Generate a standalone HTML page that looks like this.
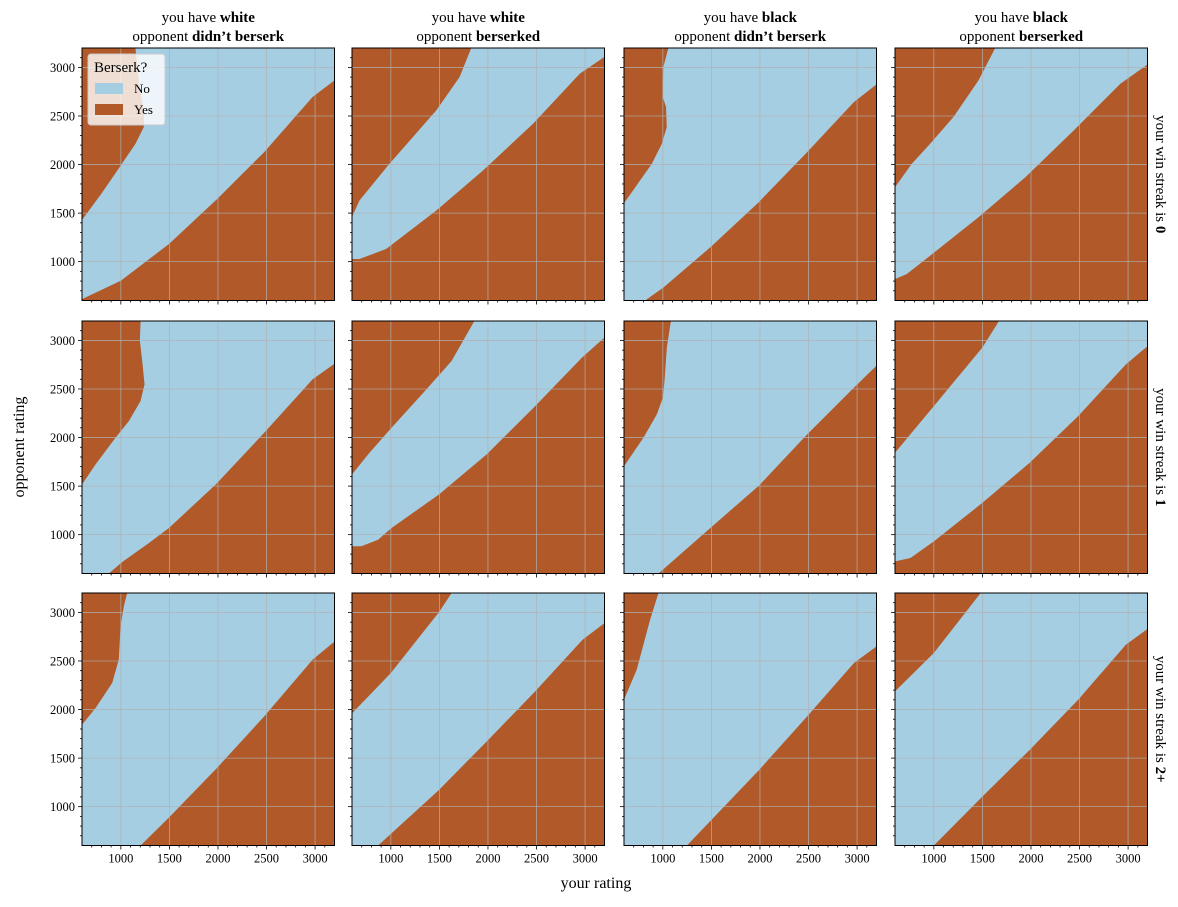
<!DOCTYPE html>
<html><head><meta charset="utf-8">
<style>
body{margin:0;background:#fff;}
svg text{font-family:"Liberation Serif",serif;fill:#000;}
</style></head>
<body>
<svg id="chart" width="1178" height="902" xmlns="http://www.w3.org/2000/svg"></svg>
<script>
const colTitlesColor = ["white","white","black","black"];
const colTitlesOpp = ["didn\u2019t berserk","berserked","didn\u2019t berserk","berserked"];
const rowStreaks = ["0","1","2+"];
const tickValues = [1000,1500,2000,2500,3000];
// upper boundaries (brown upper-left region / blue), [x,y] in rating units
const upperBounds = [
 [[600,1429],[800,1700],[999,1990],[1150,2213],[1236,2385],[1240,2520],[1185,2867],[1150,3200]],
 [[600,1460],[676,1629],[985,2007],[1467,2557],[1708,2901],[1828,3200]],
 [[600,1601],[886,2007],[989,2213],[1040,2385],[1033,2592],[999,2695],[1005,3005],[1057,3200]],
 [[600,1766],[772,2007],[961,2213],[1202,2489],[1460,2867],[1632,3200]],
 [[600,1516],[739,1722],[945,1998],[1083,2170],[1203,2376],[1244,2548],[1220,2789],[1196,2995],[1203,3200]],
 [[600,1620],[766,1826],[1007,2101],[1351,2479],[1626,2789],[1860,3200]],
 [[600,1705],[800,1998],[938,2238],[1000,2410],[1017,2582],[1041,2926],[1083,3200]],
 [[600,1843],[1000,2324],[1499,2926],[1671,3200]],
 [[600,1843],[739,2015],[911,2273],[979,2514],[997,2858],[1031,3064],[1065,3200]],
 [[600,1960],[1000,2376],[1495,3002],[1626,3200]],
 [[600,2101],[731,2410],[869,2926],[955,3200]],
 [[600,2187],[1000,2582],[1482,3200]]
];
// lower boundaries (blue / brown lower-right region)
const lowerBounds = [
 [[600,614],[999,803],[1494,1181],[1993,1646],[2475,2127],[2974,2695],[3200,2867]],
 [[600,1027],[676,1027],[951,1130],[1467,1525],[1949,1938],[2464,2420],[2946,2936],[3200,3108]],
 [[817,600],[1006,734],[1488,1147],[1986,1611],[2485,2127],[2967,2643],[3200,2826]],
 [[600,820],[720,872],[961,1061],[1460,1457],[1942,1869],[2440,2351],[2922,2833],[3200,3030]],
 [[876,600],[1014,718],[1289,914],[1495,1069],[1977,1516],[2476,2049],[2975,2600],[3200,2760]],
 [[600,880],[697,880],[869,948],[1007,1069],[1495,1413],[1987,1826],[2486,2324],[2968,2823],[3200,3030]],
 [[955,600],[1489,1069],[1991,1506],[2486,2032],[2968,2514],[3200,2740]],
 [[600,725],[759,759],[1000,931],[1499,1327],[1987,1740],[2486,2221],[2978,2754],[3200,2940]],
 [[1203,600],[1488,880],[1987,1396],[2476,1929],[2975,2514],[3200,2700]],
 [[869,600],[1495,1172],[1987,1671],[2486,2187],[2975,2720],[3200,2890]],
 [[1248,600],[1991,1378],[2486,1929],[2968,2479],[3200,2650]],
 [[1000,600],[1499,1103],[1987,1585],[2486,2101],[2978,2668],[3200,2830]]
];
const NS="http://www.w3.org/2000/svg";
const svg=document.getElementById('chart');
function mk(t,a,p){const e=document.createElementNS(NS,t);for(const k in a)e.setAttribute(k,a[k]);(p||svg).appendChild(e);return e;}
const colLeft=[82,352,624,895], rowTop=[48,321,593], W=252.5, H=252.5, MIN=600, MAX=3200;
const BLUE="#a6cee3", BROWN="#b15928";
for(let r=0;r<3;r++)for(let c=0;c<4;c++){
 const L=colLeft[c],T=rowTop[r],idx=r*4+c;
 const sx=v=>L+(v-MIN)/(MAX-MIN)*W, sy=v=>T+H-(v-MIN)/(MAX-MIN)*H;
 const g=mk('g',{});
 
 
 const cid='clip'+idx;
 const cp=mk('clipPath',{id:cid},g);mk('rect',{x:L,y:T,width:W,height:H},cp);
 const bg=mk('rect',{x:L,y:T,width:W,height:H,fill:BROWN},g);
 
 
 const pts=[...upperBounds[idx],[MAX,MAX],...lowerBounds[idx].slice().reverse(),[MIN,MIN]];
 const poly=mk('polygon',{points:pts.map(p=>sx(p[0])+','+sy(p[1])).join(' '),fill:BLUE,'clip-path':'url(#'+cid+')'},g);
 
 
 tickValues.forEach(v=>{
  const gx=mk('line',{x1:sx(v),x2:sx(v),y1:T,y2:T+H,stroke:'#b0b0b0','stroke-opacity':0.85,'stroke-width':0.8},g);
  
  
  const gy=mk('line',{y1:sy(v),y2:sy(v),x1:L,x2:L+W,stroke:'#b0b0b0','stroke-opacity':0.85,'stroke-width':0.8},g);
  
  
 });
 const fr=mk('rect',{x:L,y:T,width:W,height:H,fill:'none',stroke:'#000','stroke-width':1},g);
 
 
 for(let v=700;v<=3100;v+=100){
  const major=v%500===0;const len=major?4:2;
  mk('line',{x1:sx(v),x2:sx(v),y1:T+H,y2:T+H+len,stroke:'#000','stroke-width':0.8},g);
  mk('line',{y1:sy(v),y2:sy(v),x1:L,x2:L-len,stroke:'#000','stroke-width':0.8},g);
 }
 if(r===2)tickValues.forEach(v=>{const t=mk('text',{x:sx(v),y:T+H+17,'text-anchor':'middle','font-size':12.5},g);t.textContent=v;
  
  });
 if(c===0)tickValues.forEach(v=>{const t=mk('text',{x:L-7,y:sy(v)+4.5,'text-anchor':'end','font-size':12.5},g);t.textContent=v;
  
  });
 if(r===0){
  const t1=mk('text',{x:L+W/2,y:22,'text-anchor':'middle','font-size':15},g);
  t1.innerHTML='you have <tspan font-weight="bold">'+colTitlesColor[c]+'</tspan>';
  
  
  const t2=mk('text',{x:L+W/2,y:41,'text-anchor':'middle','font-size':15},g);
  t2.innerHTML='opponent <tspan font-weight="bold">'+colTitlesOpp[c]+'</tspan>';
  
  
 }
 if(c===3){
  const cx=1156,cy=T+H/2;
  const t=mk('text',{x:cx,y:cy,'text-anchor':'middle','font-size':15,transform:'rotate(90 '+cx+' '+cy+')'},g);
  t.innerHTML='your win streak is <tspan font-weight="bold">'+rowStreaks[r]+'</tspan>';
  
  
 }
}
const xl=mk('text',{x:596,y:888,'text-anchor':'middle','font-size':16});xl.textContent='your rating';


const yl=mk('text',{x:24,y:447,'text-anchor':'middle','font-size':16,transform:'rotate(-90 24 447)'});yl.textContent='opponent rating';


// legend
const lg=mk('g',{});


mk('rect',{x:88,y:54,width:77,height:71,rx:3,fill:'#fff','fill-opacity':0.8,stroke:'#ccc'},lg);
const lt=mk('text',{x:94,y:72,'font-size':15},lg);lt.textContent='Berserk?';


[['No',BLUE,83],['Yes',BROWN,104]].forEach(([n,col,y])=>{
 const e=mk('g',{},lg);
 
 
 mk('rect',{x:95,y:y,width:28,height:11,fill:col},e);
 const t=mk('text',{x:134,y:y+10,'font-size':13},e);t.textContent=n;
});
</script>
</body></html>
